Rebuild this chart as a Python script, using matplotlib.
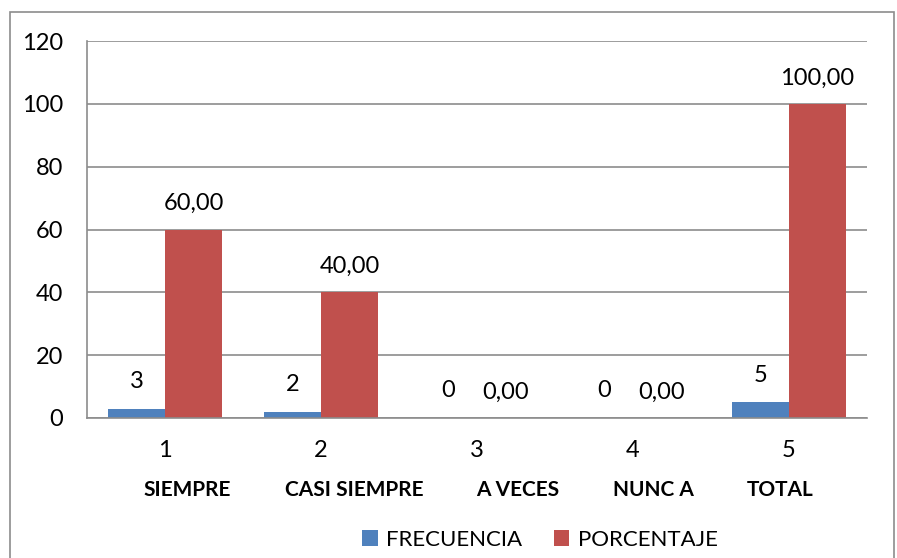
import numpy as np
import matplotlib.pyplot as plt
from matplotlib.patches import Rectangle

plt.rcParams['font.family'] = ['Lato', 'DejaVu Sans']

cats = ['1', '2', '3', '4', '5']
names = ['SIEMPRE', 'CASI SIEMPRE', 'A VECES', 'NUNC A', 'TOTAL']
name_shift = [0.14, 0.21, 0.26, 0.13, -0.06]
frecuencia = [3, 2, 0, 0, 5]
porcentaje = [60.00, 40.00, 0.00, 0.00, 100.00]

blue = '#4F81BD'
red = '#C0504D'
grid = '#8C8C8C'

fig = plt.figure(figsize=(8.97, 5.58), dpi=100)
ax = fig.add_axes([87/897, 1 - 418/558, 780/897, 377/558])

x = np.arange(len(cats))
w = 0.365
b1 = ax.bar(x - w/2, frecuencia, w, color=blue, label='FRECUENCIA')
b2 = ax.bar(x + w/2, porcentaje, w, color=red, label='PORCENTAJE')

for r, v in zip(b1, frecuencia):
    ax.annotate('{:d}'.format(v), (r.get_x() + r.get_width()/2, v),
                xytext=(0, 12), textcoords='offset points',
                ha='center', va='bottom', fontsize=17)
for r, v in zip(b2, porcentaje):
    ax.annotate('{:.2f}'.format(v).replace('.', ','), (r.get_x() + r.get_width()/2, v),
                xytext=(0, 11), textcoords='offset points',
                ha='center', va='bottom', fontsize=17)

ax.set_xlim(-0.5, len(cats) - 0.5)
ax.set_ylim(0, 120)
ax.set_yticks(np.arange(0, 121, 20))
ax.yaxis.grid(True, color=grid, lw=1.2)
ax.set_axisbelow(True)
ax.tick_params(axis='y', length=0, labelsize=17, pad=17)
ax.set_xticks(x)
ax.set_xticklabels(cats, fontsize=17)
ax.tick_params(axis='x', length=0, pad=16)
for s in ['top', 'right']:
    ax.spines[s].set_visible(False)
ax.spines['left'].set_color(grid)
ax.spines['bottom'].set_color(grid)
ax.spines['left'].set_linewidth(1.2)
ax.spines['bottom'].set_linewidth(1.2)

for i, n in enumerate(names):
    ax.text(i + name_shift[i], -0.19, n, transform=ax.get_xaxis_transform(),
            ha='center', va='center', fontsize=15, fontweight='bold')

fig.legend(loc='center', bbox_to_anchor=(540/897, 1 - 540/558), ncol=2,
           frameon=False, fontsize=16, handlelength=0.7, handleheight=0.7,
           handletextpad=0.4, columnspacing=1.4)

fig.patches.append(Rectangle((10/897, -0.01), 884/897, 1 - 12/558 + 0.01,
                             transform=fig.transFigure, fill=False,
                             edgecolor='#8C8C8C', lw=1.2))

fig.savefig('out.png', dpi=100)
